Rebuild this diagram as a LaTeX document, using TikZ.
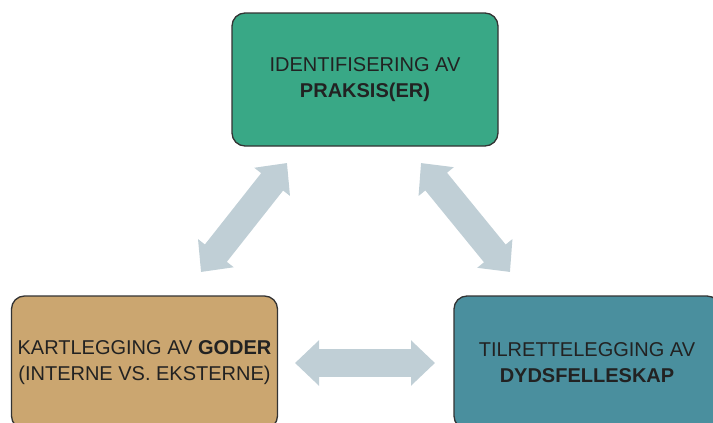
\documentclass[tikz,border=0pt]{standalone}
\usepackage{fontspec}
\setmainfont{Liberation Sans}
\usetikzlibrary{arrows.meta}
\definecolor{boxgreen}{HTML}{39A886}
\definecolor{boxtan}{HTML}{CBA670}
\definecolor{boxteal}{HTML}{4A8F9E}
\definecolor{arrowgray}{HTML}{C0CFD6}
\definecolor{txtcol}{HTML}{222222}
\definecolor{edgecol}{HTML}{333333}
\begin{document}
\begin{tikzpicture}[x=1pt,y=-1pt,
  stepbox/.style={draw=edgecol, line width=1.3pt, rounded corners=13pt,
    minimum width=266pt, minimum height=133pt, inner sep=0pt, align=center,
    text=txtcol, font=\fontsize{20}{25.5}\selectfont},
  bigarrow/.style={draw=arrowgray, line width=28pt,
    {Triangle[length=24pt,width=44pt]}-{Triangle[length=24pt,width=44pt]}}]
\useasboundingbox (0,0) rectangle (713,423);
\node[stepbox, fill=boxgreen] (top) at (365,79.5) {IDENTIFISERING AV\\\textbf{PRAKSIS(ER)}};
\node[stepbox, fill=boxtan] (left) at (144.5,362.5) {KARTLEGGING AV \textbf{GODER}\\(INTERNE VS. EKSTERNE)};
\node[stepbox, fill=boxteal] (right) at (587,362.5) {TILRETTELEGGING AV\\\textbf{DYDSFELLESKAP}};
\coordinate (la) at (201,272);
\coordinate (lb) at (287,163);
\coordinate (ra) at (421,163);
\coordinate (rb) at (510,272);
\coordinate (ha) at (295,363);
\coordinate (hb) at (435,363);
\draw[bigarrow] (la) -- (lb);
\draw[bigarrow] (ra) -- (rb);
\draw[bigarrow] (ha) -- (hb);
\end{tikzpicture}
\end{document}
